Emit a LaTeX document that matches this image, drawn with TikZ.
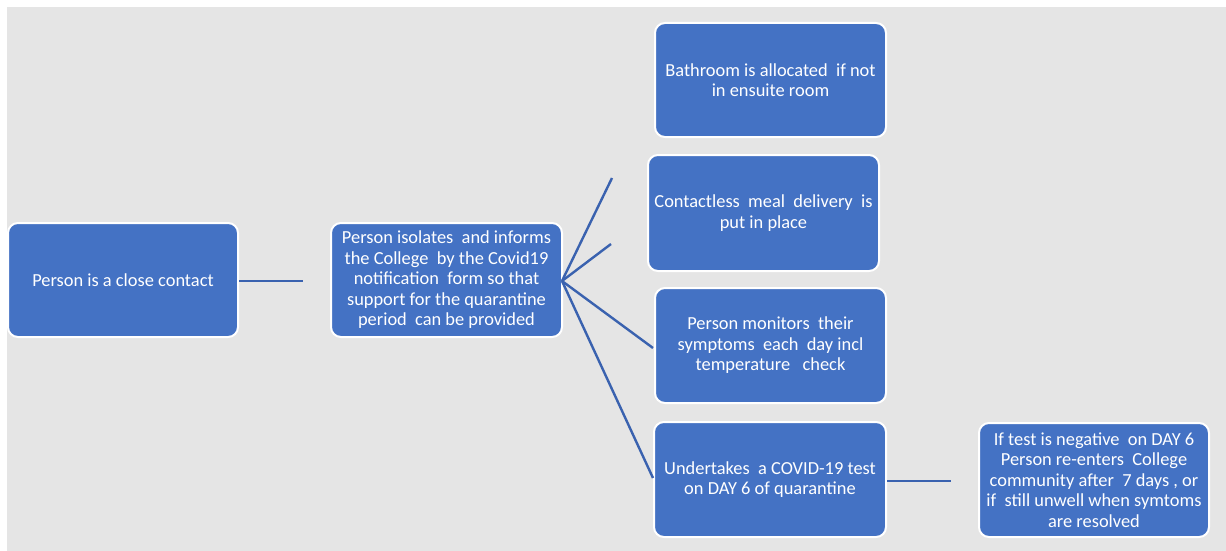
\documentclass[tikz,border=0pt]{standalone}
\usepackage{fontspec}
\setmainfont{Carlito}
\definecolor{bg}{HTML}{E5E5E5}
\definecolor{boxblue}{HTML}{4472C4}
\definecolor{linkblue}{HTML}{3A62AF}
\begin{document}
\begin{tikzpicture}[x=1pt,y=-1pt,
  card/.style={draw=white,line width=2pt,fill=boxblue,rounded corners=10pt,
    text=white,align=center,font=\fontsize{18.4}{20.5}\selectfont,inner sep=0pt},
  link/.style={draw=linkblue,line width=2.4pt}]
\useasboundingbox (0,0) rectangle (1226,551);
\fill[white] (0,0) rectangle (1226,551);
\fill[bg] (7,7) rectangle (1226,551);
\node[card,minimum width=230pt,minimum height=114pt] (a) at (123,280) {Person is a close contact};
\node[card,minimum width=231pt,minimum height=114pt] (b) at (446.5,280) {Person isolates \ and informs\\the College \ by the Covid19\\notification \ form so that\\support for the quarantine\\period \ can be provided};
\node[card,minimum width=231pt,minimum height=114pt] (c) at (770.5,80) {Bathroom is allocated \ if not\\in ensuite room};
\node[card,minimum width=231pt,minimum height=116pt] (d) at (763.5,213) {Contactless \ meal \ delivery \ is\\put in place};
\node[card,minimum width=231pt,minimum height=115pt] (e) at (770.5,345.5) {Person monitors \ their\\symptoms \ each \ day incl\\temperature \ \ check};
\node[card,minimum width=232pt,minimum height=115pt] (f) at (770,479.5) {Undertakes \ a COVID-19 test\\on DAY 6 of quarantine};
\node[card,minimum width=230pt,minimum height=114pt] (g) at (1094,480) {If test is negative \ on DAY 6\\Person re-enters \ College\\community after \ 7 days , or\\if \ still unwell when symtoms\\are resolved};
\coordinate (ae) at (303,281);
\coordinate (hub) at (562,281);
\coordinate (t1) at (612,178);
\coordinate (t2) at (611,244);
\coordinate (fe) at (951,481);
\draw[link] (a.east |- ae) -- (ae);
\draw[link] (hub) -- (t1);
\draw[link] (hub) -- (t2);
\draw[link] (hub) -- (653,348) coordinate (e1);
\draw[link] (hub) -- (653,478) coordinate (f1);
\draw[link] (f.east |- fe) -- (fe);
\end{tikzpicture}
\end{document}
